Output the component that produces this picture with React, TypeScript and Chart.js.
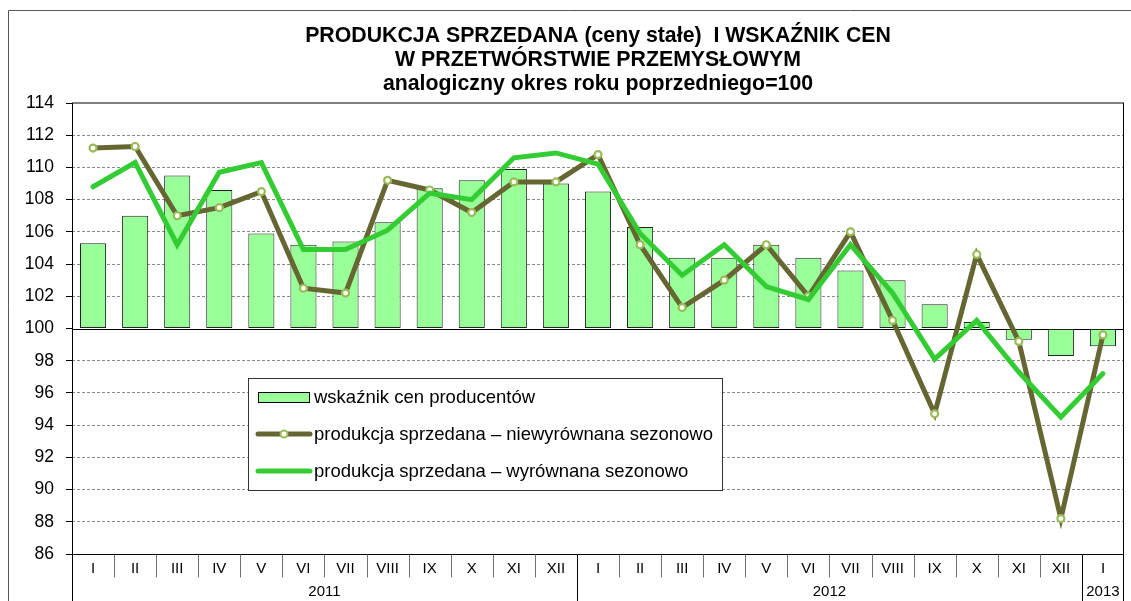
import React, { useEffect, useRef } from 'react';
import { Chart, registerables } from 'chart.js';

Chart.register(...registerables);

const titleLines = [
  'PRODUKCJA SPRZEDANA (ceny stałe)  I WSKAŹNIK CEN',
  'W PRZETWÓRSTWIE PRZEMYSŁOWYM',
  'analogiczny okres roku poprzedniego=100',
];

const months = [
  'I', 'II', 'III', 'IV', 'V', 'VI', 'VII', 'VIII', 'IX', 'X', 'XI', 'XII',
  'I', 'II', 'III', 'IV', 'V', 'VI', 'VII', 'VIII', 'IX', 'X', 'XI', 'XII',
  'I',
];
const yearLabels = ['2011', '2012', '2013'];
const yearSpans = [12, 12, 1];

const priceIndex = [
  105.3, 107.0, 109.5, 108.6, 105.9, 105.2, 105.4, 106.6, 108.7, 109.2, 109.9, 109.0,
  108.5, 106.3, 104.4, 104.4, 105.2, 104.4, 103.6, 103.0, 101.5, 100.4, 99.3, 98.3,
  98.9,
];
const productionUnadjusted = [
  111.2, 111.3, 107.0, 107.5, 108.5, 102.5, 102.2, 109.2, 108.6, 107.2, 109.1, 109.1,
  110.8, 105.2, 101.3, 103.0, 105.2, 102.0, 106.0, 100.5, 94.7, 104.6, 99.2, 88.2,
  99.6,
];
const productionAdjusted = [
  108.8, 110.3, 105.2, 109.7, 110.3, 104.9, 104.9, 106.1, 108.4, 108.0, 110.6, 110.9,
  110.2, 105.9, 103.3, 105.2, 102.6, 101.8, 105.2, 102.2, 98.1, 100.5, 97.3, 94.5,
  97.2,
];
const legendLabels = [
  'wskaźnik cen producentów',
  'produkcja sprzedana – niewyrównana sezonowo',
  'produkcja sprzedana – wyrównana sezonowo',
];
const yMin = 86;
const yMax = 114;
const yStep = 2;
const baseValue = 100;

const FONT = '"Liberation Sans", Arial, sans-serif';
const BAR_FILL = '#99FF99';
const DARK = '#666633';
const GREEN = '#33CC33';
const MARKER = '#9BBB59';

const decorations = {
  id: 'decorations',
  beforeDatasetsDraw(chart: any) {
    const { ctx, chartArea: a, scales } = chart;
    const y = scales.y;
    ctx.save();
    ctx.lineWidth = 1;
    ctx.strokeStyle = '#000';
    const y100 = Math.round(y.getPixelForValue(baseValue)) + 0.5;
    ctx.beginPath();
    ctx.moveTo(a.left, y100);
    ctx.lineTo(a.right, y100);
    ctx.stroke();
    ctx.restore();
  },
  afterDraw(chart: any) {
    const { ctx, chartArea: a, scales } = chart;
    const x = scales.x;
    const W = chart.width;
    const H = chart.height;
    ctx.save();

    // outer frame
    ctx.strokeStyle = '#555';
    ctx.lineWidth = 1;
    ctx.beginPath();
    ctx.moveTo(8.5, H);
    ctx.lineTo(8.5, 10.5);
    ctx.lineTo(W, 10.5);
    ctx.stroke();

    // title
    ctx.fillStyle = '#000';
    ctx.textAlign = 'center';
    ctx.textBaseline = 'middle';
    ctx.font = `bold 21.3px ${FONT}`;
    const cx = (a.left + a.right) / 2;
    titleLines.forEach((t, i) => ctx.fillText(t, cx, 36 + i * 24));

    // plot area top border (gray)
    ctx.strokeStyle = '#808080';
    ctx.lineWidth = 2;
    ctx.beginPath();
    ctx.moveTo(a.left, a.top);
    ctx.lineTo(a.right, a.top);
    ctx.stroke();

    // left, right, bottom lines
    ctx.strokeStyle = '#000';
    ctx.lineWidth = 1;
    const L = Math.round(a.left) + 0.5;
    const R = Math.round(a.right) - 0.5;
    const B = Math.round(a.bottom) + 0.5;
    ctx.beginPath();
    ctx.moveTo(L, a.top);
    ctx.lineTo(L, H);
    ctx.moveTo(R, a.top);
    ctx.lineTo(R, H);
    ctx.moveTo(a.left, B);
    ctx.lineTo(a.right, B);
    ctx.stroke();

    // category boundaries
    const n = months.length;
    const boundary = (i: number) => {
      if (i <= 0) return a.left;
      if (i >= n) return a.right;
      return (x.getPixelForValue(i - 1) + x.getPixelForValue(i)) / 2;
    };
    ctx.strokeStyle = '#707070';
    ctx.beginPath();
    for (let i = 1; i < n; i++) {
      const bx = Math.round(boundary(i)) + 0.5;
      ctx.moveTo(bx, B);
      ctx.lineTo(bx, B + 23);
    }
    ctx.stroke();

    // year boundaries
    ctx.strokeStyle = '#000';
    ctx.beginPath();
    let acc = 0;
    yearSpans.forEach((s) => {
      acc += s;
      if (acc < n) {
        const bx = Math.round(boundary(acc)) + 0.5;
        ctx.moveTo(bx, B);
        ctx.lineTo(bx, H);
      }
    });
    ctx.stroke();

    // month labels
    ctx.fillStyle = '#000';
    ctx.font = `15px ${FONT}`;
    ctx.textAlign = 'center';
    ctx.textBaseline = 'middle';
    months.forEach((m, i) => ctx.fillText(m, x.getPixelForValue(i), B + 14));

    // year labels
    acc = 0;
    yearLabels.forEach((yl, j) => {
      const start = boundary(acc);
      acc += yearSpans[j];
      const end = boundary(acc);
      ctx.fillText(yl, (start + end) / 2, B + 37);
    });

    // legend
    const lx = 248.5, ly = 378.5, lw = 474, lh = 112;
    ctx.fillStyle = '#fff';
    ctx.fillRect(lx, ly, lw, lh);
    ctx.strokeStyle = '#333';
    ctx.lineWidth = 1;
    ctx.strokeRect(lx, ly, lw, lh);

    const rows = [397, 434, 471];
    // bar swatch
    ctx.fillStyle = BAR_FILL;
    ctx.fillRect(258.5, 392.5, 51, 10);
    ctx.strokeStyle = '#000';
    ctx.strokeRect(258.5, 392.5, 51, 10);
    // dark line swatch
    ctx.lineCap = 'round';
    ctx.lineWidth = 5;
    ctx.strokeStyle = DARK;
    ctx.beginPath();
    ctx.moveTo(258, rows[1]);
    ctx.lineTo(310, rows[1]);
    ctx.stroke();
    ctx.lineWidth = 2;
    ctx.fillStyle = '#fff';
    ctx.strokeStyle = MARKER;
    ctx.beginPath();
    ctx.arc(284, rows[1], 3.5, 0, Math.PI * 2);
    ctx.fill();
    ctx.stroke();
    // green swatch
    ctx.lineWidth = 5;
    ctx.strokeStyle = GREEN;
    ctx.beginPath();
    ctx.moveTo(258, rows[2]);
    ctx.lineTo(310, rows[2]);
    ctx.stroke();

    ctx.fillStyle = '#000';
    ctx.font = `18.5px ${FONT}`;
    ctx.textAlign = 'left';
    ctx.textBaseline = 'middle';
    legendLabels.forEach((t, i) => ctx.fillText(t, 314, rows[i] + 1));

    ctx.restore();
  },
};

export default function App() {
  const ref = useRef<HTMLCanvasElement>(null);
  useEffect(() => {
    const canvas = ref.current;
    if (!canvas) return;
    const chart = new Chart(canvas, {
      type: 'bar',
      data: {
        labels: months.map((m, i) => `${m}-${i}`),
        datasets: [
          {
            type: 'line',
            label: legendLabels[2],
            data: productionAdjusted,
            borderColor: GREEN,
            backgroundColor: GREEN,
            borderWidth: 5,
            pointRadius: 0,
            pointHoverRadius: 0,
            tension: 0,
            borderCapStyle: 'round',
            order: 0,
          } as any,
          {
            type: 'line',
            label: legendLabels[1],
            data: productionUnadjusted,
            borderColor: DARK,
            backgroundColor: DARK,
            borderWidth: 5,
            pointRadius: 3.5,
            pointBorderWidth: 2.2,
            pointBackgroundColor: '#fff',
            pointBorderColor: MARKER,
            tension: 0,
            borderCapStyle: 'round',
            order: 1,
          } as any,
          {
            type: 'bar',
            label: legendLabels[0],
            data: priceIndex,
            base: baseValue,
            backgroundColor: BAR_FILL,
            borderColor: '#222',
            borderWidth: 1,
            borderSkipped: false,
            barPercentage: 0.62,
            categoryPercentage: 1,
            order: 2,
          } as any,
        ],
      },
      options: {
        responsive: false,
        animation: false,
        devicePixelRatio: 1,
        layout: { padding: { left: 0, right: 7, top: 103, bottom: 47 } },
        plugins: {
          legend: { display: false },
          title: { display: false },
          tooltip: { enabled: false },
        },
        scales: {
          x: {
            type: 'category',
            display: false,
            offset: true,
          },
          y: {
            min: yMin,
            max: yMax,
            afterFit: (s: any) => {
              s.width = 72;
            },
            ticks: {
              stepSize: yStep,
              color: '#000',
              font: { family: FONT, size: 17.5 },
              padding: 12,
            },
            grid: {
              color: (c: any) => {
                const v = c.tick ? c.tick.value : null;
                if (v === yMin || v === yMax || v === baseValue) return 'rgba(0,0,0,0)';
                return '#8a8a8a';
              },
              tickColor: '#000',
              tickLength: 6,
              lineWidth: 1,
            },
            border: { display: false, dash: [3, 2] },
          },
        },
      },
      plugins: [decorations],
    });
    return () => chart.destroy();
  }, []);

  return (
    <div style={{ position: 'absolute', left: 0, top: 0, width: 1131, height: 601, background: '#fff' }}>
      <canvas ref={ref} width={1131} height={601} style={{ display: 'block' }} />
    </div>
  );
}
